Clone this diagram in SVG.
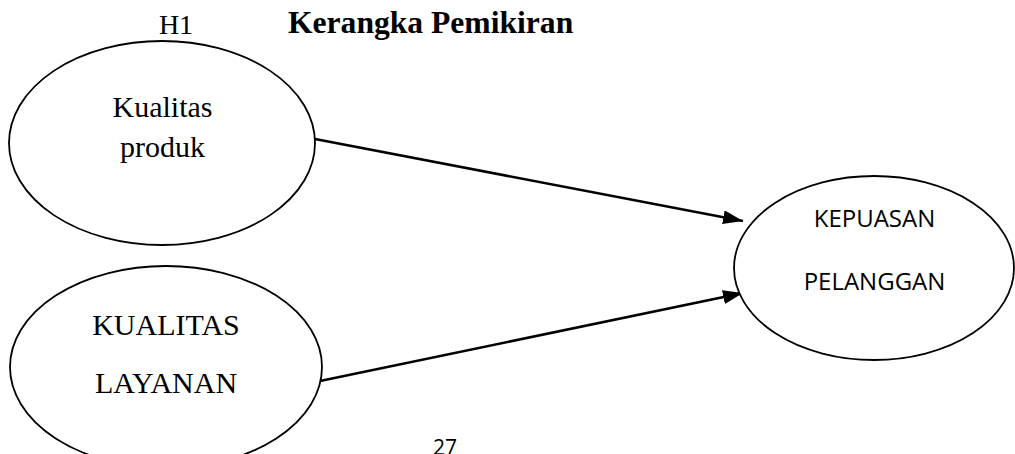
<svg xmlns="http://www.w3.org/2000/svg" width="1015" height="454" viewBox="0 0 1015 454">
  <style>
    .node { fill: #ffffff; stroke: #000000; stroke-width: 1.8; }
    .serif { font-family: "Liberation Serif", "Times New Roman", serif; fill: #000000; }
    .sans { font-family: "Open Sans", "Noto Sans", sans-serif; fill: #000000; }
    .edge { fill: none; stroke: #000000; stroke-width: 2.6; }
  </style>
  <defs>
    <marker id="arrow" markerUnits="userSpaceOnUse" markerWidth="22" markerHeight="16" refX="20" refY="7" orient="auto">
      <path d="M0,0 L20,7 L0,14 Z" fill="#000000"/>
    </marker>
  </defs>
  <rect width="1015" height="454" fill="#ffffff"/>

  <g id="header">
    <text class="serif" x="176" y="34" font-size="28" text-anchor="middle">H1</text>
    <text class="serif" x="288" y="33" font-size="31.6" font-weight="bold">Kerangka Pemikiran</text>
  </g>

  <g id="connectors">
    <path class="edge" d="M315,139 L743,221" marker-end="url(#arrow)"/>
    <path class="edge" d="M320,381 L743,293" marker-end="url(#arrow)"/>
  </g>

  <g id="node-kualitas-produk">
    <ellipse class="node" cx="162" cy="143" rx="153" ry="102"/>
    <text class="serif" x="162.5" y="117" font-size="30" text-anchor="middle">Kualitas</text>
    <text class="serif" x="162.5" y="157" font-size="30" text-anchor="middle">produk</text>
  </g>

  <g id="node-kualitas-layanan">
    <ellipse class="node" cx="166" cy="367" rx="156" ry="101"/>
    <text class="serif" x="166" y="335" font-size="30" text-anchor="middle">KUALITAS</text>
    <text class="serif" x="166" y="393" font-size="30" text-anchor="middle">LAYANAN</text>
  </g>

  <g id="node-kepuasan-pelanggan">
    <ellipse class="node" cx="874" cy="268" rx="140" ry="92"/>
    <text class="sans" x="874.5" y="227" font-size="24" text-anchor="middle">KEPUASAN</text>
    <text class="sans" x="874.5" y="290" font-size="24" text-anchor="middle">PELANGGAN</text>
  </g>

  <g id="page-number">
    <text class="sans" x="433" y="455" font-size="21">27</text>
  </g>
</svg>
